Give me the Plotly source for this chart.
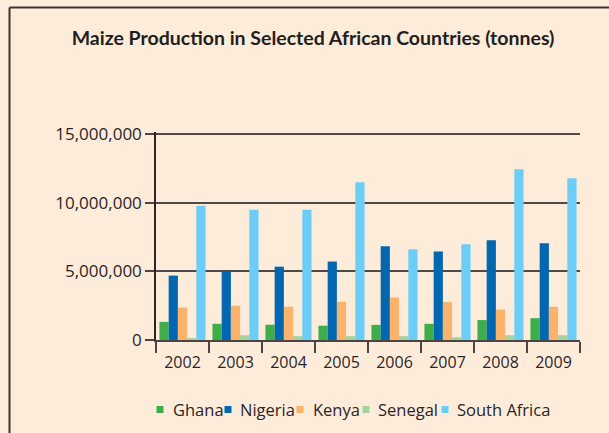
import plotly.graph_objects as go

years = ["2002", "2003", "2004", "2005", "2006", "2007", "2008", "2009"]
series_names = ["Ghana", "Nigeria", "Kenya", "Senegal", "South Africa"]
ghana = [1320000, 1180000, 1110000, 1040000, 1100000, 1180000, 1450000, 1590000]
nigeria = [4690000, 5000000, 5340000, 5710000, 6820000, 6450000, 7270000, 7040000]
kenya = [2360000, 2500000, 2430000, 2780000, 3100000, 2760000, 2210000, 2420000]
senegal = [140000, 350000, 280000, 280000, 280000, 200000, 350000, 350000]
south_africa = [9780000, 9480000, 9480000, 11480000, 6600000, 6970000, 12440000, 11770000]
y_ticks = [0, 5000000, 10000000, 15000000]
y_tick_labels = ["0", "5,000,000", "10,000,000", "15,000,000"]

colors = ["#3DAE4A", "#0067B0", "#FBB36C", "#A6D39D", "#6CCEF6"]
values = [ghana, nigeria, kenya, senegal, south_africa]

W, H = 609, 433
L, R, T, B = 156, 29, 132, 93
PW, PH = W - L - R, H - T - B
Y_MAX = 15000000 * PH / 206.0

def px_x(x):
    return (x - L) / PW

def px_y(y):
    return (H - B - y) / PH

BG = "#FEECDA"
TXT = "#2B2526"
FONT = "Open Sans, DejaVu Sans, sans-serif"

fig = go.Figure()
for name, vals, c in zip(series_names, values, colors):
    fig.add_trace(go.Bar(x=years, y=vals, name=name, marker=dict(color=c, line=dict(width=0)),
                         showlegend=False))

shapes = [
    dict(type="line", xref="paper", yref="paper", x0=px_x(9.5), x1=px_x(9.5), y0=px_y(7.5), y1=px_y(440),
         line=dict(color="#3A3334", width=2)),
    dict(type="line", xref="paper", yref="paper", x0=px_x(9.5), x1=px_x(620), y0=px_y(7.5), y1=px_y(7.5),
         line=dict(color="#3A3334", width=2)),
]
annotations = []
legend_marker_x = [160, 228, 300, 366, 445]
legend_text_x = [171, 238, 311, 376, 455]
ly = 409
for name, c, mx, tx in zip(series_names, colors, legend_marker_x, legend_text_x):
    shapes.append(dict(type="rect", xref="paper", yref="paper",
                       x0=px_x(mx - 3.5), x1=px_x(mx + 3.5), y0=px_y(ly + 4), y1=px_y(ly - 3),
                       fillcolor=c, line=dict(width=0)))
    annotations.append(dict(text=name, xref="paper", yref="paper", x=px_x(tx), y=px_y(ly),
                            xanchor="left", yanchor="middle", showarrow=False,
                            font=dict(size=16.5, color=TXT, family=FONT)))

fig.update_layout(
    width=W, height=H,
    margin=dict(l=L, r=R, t=T, b=B, pad=0),
    paper_bgcolor=BG, plot_bgcolor=BG,
    barmode="group", bargap=0.13, bargroupgap=0,
    title=dict(text="<b>Maize Production in Selected African Countries (tonnes)</b>",
               x=313 / W, xanchor="center", y=1 - 38 / H, yanchor="middle",
               font=dict(size=19.5, color="#231F20", family="Lato, sans-serif")),
    font=dict(family=FONT, color=TXT),
    shapes=shapes, annotations=annotations,
    xaxis=dict(type="category", tickson="boundaries", ticks="outside", ticklen=11, tickwidth=1.5,
               tickcolor="#4A4445", showline=True, linecolor="#4A4445", linewidth=2,
               ticklabelstandoff=7,
               showgrid=False, tickfont=dict(size=16, color=TXT), fixedrange=True),
    yaxis=dict(range=[0, Y_MAX], tickvals=y_ticks, ticktext=y_tick_labels, ticks="outside",
               ticklen=9, tickwidth=1.5, tickcolor="#4A4445", showline=True, linecolor="#2B2526",
               linewidth=1.5, showgrid=True, gridcolor="#4F4A4A", gridwidth=1.5, zeroline=False,
               tickfont=dict(size=17, color=TXT), fixedrange=True),
)

fig.write_html("out.html", config={"displayModeBar": False},
               post_script="document.body.style.margin='0';document.body.style.background='" + BG + "';")
